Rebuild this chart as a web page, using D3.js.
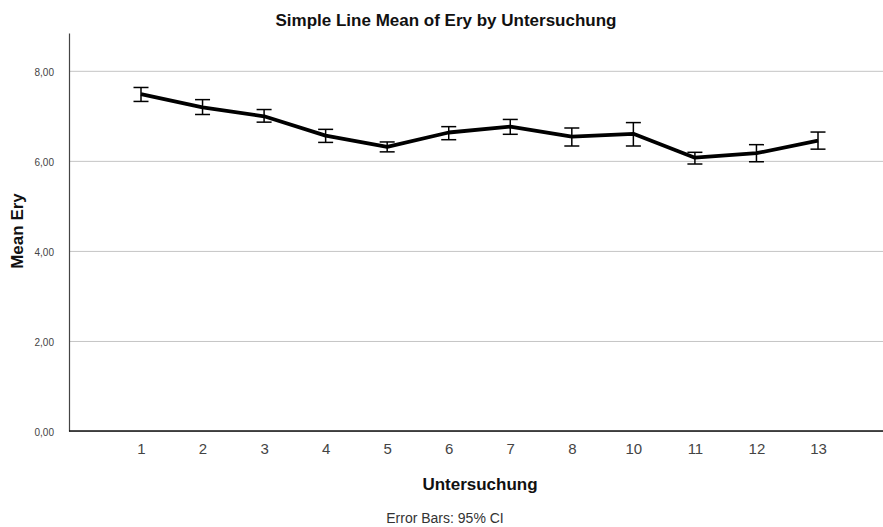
<!DOCTYPE html>
<html>
<head>
<meta charset="utf-8">
<script src="https://cdn.jsdelivr.net/npm/d3@7"></script>
<style>
  body { margin: 0; background: #fff; }
  svg { font-family: Arial, "Liberation Sans", sans-serif; }
</style>
</head>
<body>
<div class="line-chart-container"></div>
<script>
// data
const untersuchung = ['1', '2', '3', '4', '5', '6', '7', '8', '10', '11', '12', '13'];
const meanEry = [7.48, 7.19, 6.99, 6.56, 6.31, 6.63, 6.76, 6.54, 6.60, 6.07, 6.17, 6.45];
const ciLow = [7.32, 7.03, 6.86, 6.41, 6.20, 6.47, 6.59, 6.33, 6.33, 5.93, 5.98, 6.26];
const ciHigh = [7.63, 7.36, 7.14, 6.70, 6.42, 6.76, 6.92, 6.73, 6.85, 6.19, 6.36, 6.64];
const yTicks = [0, 2, 4, 6, 8];

const chartData = untersuchung.map((u, i) => ({
    u: u, mean: meanEry[i], lo: ciLow[i], hi: ciHigh[i]
}));

const svg_width = 883;
const svg_height = 527;
const plot = {left: 69, right: 883, top: 33, bottom: 431};

const svg = d3.select('.line-chart-container').append('svg')
    .attr('width', svg_width)
    .attr('height', svg_height);

// scales
const xScale = d3.scalePoint().domain(untersuchung).range([141, 818]);
const yScale = d3.scaleLinear().domain([0, 8.84]).range([plot.bottom, plot.top]);

// grid lines
const yGrid = d3.axisLeft(yScale).tickValues(yTicks)
    .tickSize(-(plot.right - plot.left)).tickFormat('');
svg.append('g')
    .attr('class', 'grid')
    .attr('transform', `translate(${plot.left},0)`)
    .call(yGrid)
    .call(g => g.select('.domain').remove())
    .selectAll('line').attr('stroke', '#c4c4c4').attr('stroke-width', 1);

// y axis
const yAxis = d3.axisLeft(yScale).tickValues(yTicks).tickSize(0)
    .tickFormat(d => d3.format('.2f')(d).replace('.', ','));
const yAxisDraw = svg.append('g')
    .attr('class', 'y axis')
    .attr('transform', `translate(${plot.left},0)`)
    .call(yAxis);
yAxisDraw.select('.domain').attr('stroke', '#444').attr('stroke-width', 1.2);
yAxisDraw.selectAll('text')
    .attr('x', -15)
    .attr('dy', '0.45em')
    .style('font-size', '10px')
    .style('fill', '#444');

// x axis
const xAxis = d3.axisBottom(xScale).tickSize(0).tickSizeOuter(0);
const xAxisDraw = svg.append('g')
    .attr('class', 'x axis')
    .attr('transform', `translate(0,${plot.bottom})`)
    .call(xAxis);
xAxisDraw.select('.domain')
    .attr('d', `M${plot.left},0H${plot.right}`)
    .attr('stroke', '#111').attr('stroke-width', 1.5);
xAxisDraw.selectAll('text')
    .attr('y', 23)
    .attr('dy', 0)
    .style('font-size', '15px')
    .style('fill', '#444');

// error bars (95% CI)
const capW = 7.5;
const bars = svg.append('g').attr('class', 'error-bars')
    .selectAll('g')
    .data(chartData)
    .join('g')
    .attr('stroke', '#000')
    .attr('stroke-width', 1.5);
bars.append('line')
    .attr('x1', d => xScale(d.u)).attr('x2', d => xScale(d.u))
    .attr('y1', d => yScale(d.lo)).attr('y2', d => yScale(d.hi));
bars.append('line')
    .attr('x1', d => xScale(d.u) - capW).attr('x2', d => xScale(d.u) + capW)
    .attr('y1', d => yScale(d.hi)).attr('y2', d => yScale(d.hi));
bars.append('line')
    .attr('x1', d => xScale(d.u) - capW).attr('x2', d => xScale(d.u) + capW)
    .attr('y1', d => yScale(d.lo)).attr('y2', d => yScale(d.lo));

// mean line
const line = d3.line().x(d => xScale(d.u)).y(d => yScale(d.mean));
svg.append('path')
    .datum(chartData)
    .attr('d', line)
    .attr('fill', 'none')
    .attr('stroke', '#000')
    .attr('stroke-width', 3.8)
    .attr('stroke-linejoin', 'round');

// texts
svg.append('text')
    .attr('x', 446).attr('y', 26)
    .attr('text-anchor', 'middle')
    .style('font-size', '17px').style('font-weight', 'bold')
    .style('fill', '#111')
    .text('Simple Line Mean of Ery by Untersuchung');

svg.append('text')
    .attr('transform', 'translate(23,231) rotate(-90)')
    .attr('text-anchor', 'middle')
    .style('font-size', '17px').style('font-weight', 'bold')
    .style('fill', '#111')
    .text('Mean Ery');

svg.append('text')
    .attr('x', 480).attr('y', 490)
    .attr('text-anchor', 'middle')
    .style('font-size', '17px').style('font-weight', 'bold')
    .style('fill', '#111')
    .text('Untersuchung');

svg.append('text')
    .attr('x', 445).attr('y', 523)
    .attr('text-anchor', 'middle')
    .style('font-size', '14px').style('fill', '#333')
    .text('Error Bars: 95% CI');
</script>
</body>
</html>
